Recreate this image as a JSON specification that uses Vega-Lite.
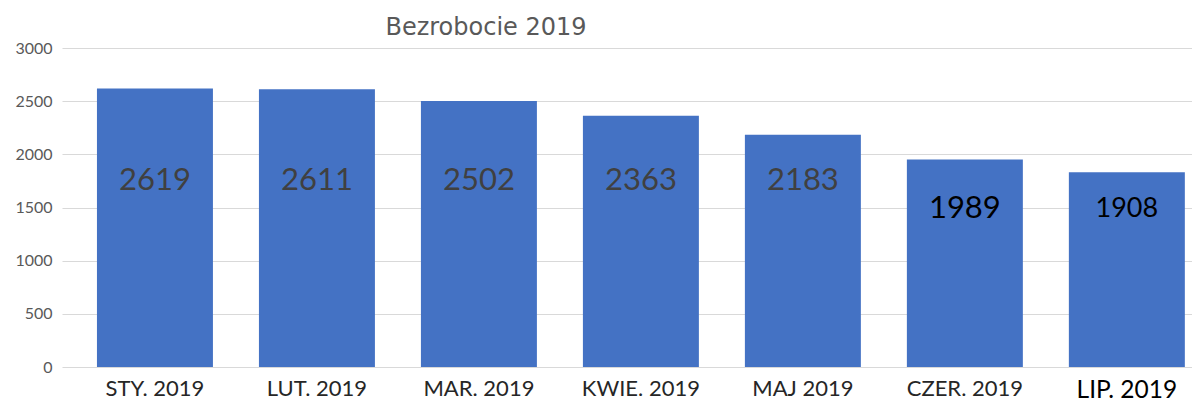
{
  "$schema": "https://vega.github.io/schema/vega-lite/v6.json",
  "width": 1130,
  "height": 319,
  "autosize": {"type": "none"},
  "padding": {"left": 62, "top": 48, "right": 0, "bottom": 36},
  "background": "white",
  "title": {"text": "Bezrobocie 2019", "font": "DejaVu Sans", "fontSize": 24, "fontWeight": "normal", "color": "#595959", "anchor": "middle", "dx": -141, "offset": 0},
  "config": {"view": {"stroke": null}},
  "data": {"values": [
    {"month": "STY. 2019", "value": 2619, "label": "2619"},
    {"month": "LUT. 2019", "value": 2611, "label": "2611"},
    {"month": "MAR. 2019", "value": 2502, "label": "2502"},
    {"month": "KWIE. 2019", "value": 2363, "label": "2363"},
    {"month": "MAJ 2019", "value": 2183, "label": "2183"},
    {"month": "CZER. 2019", "value": 1952, "label": "1989"},
    {"month": "LIP. 2019", "value": 1832, "label": "1908"}
  ]},
  "encoding": {
    "x": {
      "field": "month", "type": "nominal", "sort": null,
      "scale": {"paddingInner": 0.284, "paddingOuter": 0.13, "align": 0.83},
      "axis": {
        "title": null, "ticks": false, "domain": false, "labelAngle": 0, "labelFont": "Lato",
        "labelFontSize": {"condition": {"test": "datum.value === 'LIP. 2019'", "value": 24.5}, "value": 22},
        "labelColor": {"condition": {"test": "datum.value === 'LIP. 2019'", "value": "#000000"}, "value": "#262626"},
        "labelPadding": 11, "labelLimit": 300
      }
    }
  },
  "layer": [
    {
      "mark": {"type": "bar", "color": "#4472C4"},
      "encoding": {
        "y": {
          "field": "value", "type": "quantitative",
          "scale": {"domain": [0, 3000], "nice": false},
          "axis": {"title": null, "format": "d", "values": [0, 500, 1000, 1500, 2000, 2500, 3000], "ticks": false, "domain": false, "gridColor": "#D9D9D9", "labelFont": "Lato", "labelFontSize": 16, "labelColor": "#595959", "labelPadding": 10}
        }
      }
    },
    {
      "transform": [{"filter": {"not": {"field": "month", "oneOf": ["CZER. 2019", "LIP. 2019"]}}}],
      "mark": {"type": "text", "font": "Lato", "fontSize": 31, "color": "#404040", "baseline": "middle"},
      "encoding": {
        "y": {"datum": 1752, "type": "quantitative", "axis": {"title": null, "format": "d", "values": [0, 500, 1000, 1500, 2000, 2500, 3000], "ticks": false, "domain": false, "gridColor": "#D9D9D9", "labelFont": "Lato", "labelFontSize": 16, "labelColor": "#595959", "labelPadding": 10}},
        "text": {"field": "label"}
      }
    },
    {
      "transform": [{"filter": {"field": "month", "oneOf": ["CZER. 2019", "LIP. 2019"]}}],
      "mark": {"type": "text", "font": "Lato", "color": "#000000", "baseline": "middle"},
      "encoding": {
        "y": {"datum": 1487, "type": "quantitative", "axis": {"title": null, "format": "d", "values": [0, 500, 1000, 1500, 2000, 2500, 3000], "ticks": false, "domain": false, "gridColor": "#D9D9D9", "labelFont": "Lato", "labelFontSize": 16, "labelColor": "#595959", "labelPadding": 10}},
        "text": {"field": "label"},
        "size": {"condition": {"test": "datum.month === 'LIP. 2019'", "value": 27}, "value": 31}
      }
    }
  ]
}
